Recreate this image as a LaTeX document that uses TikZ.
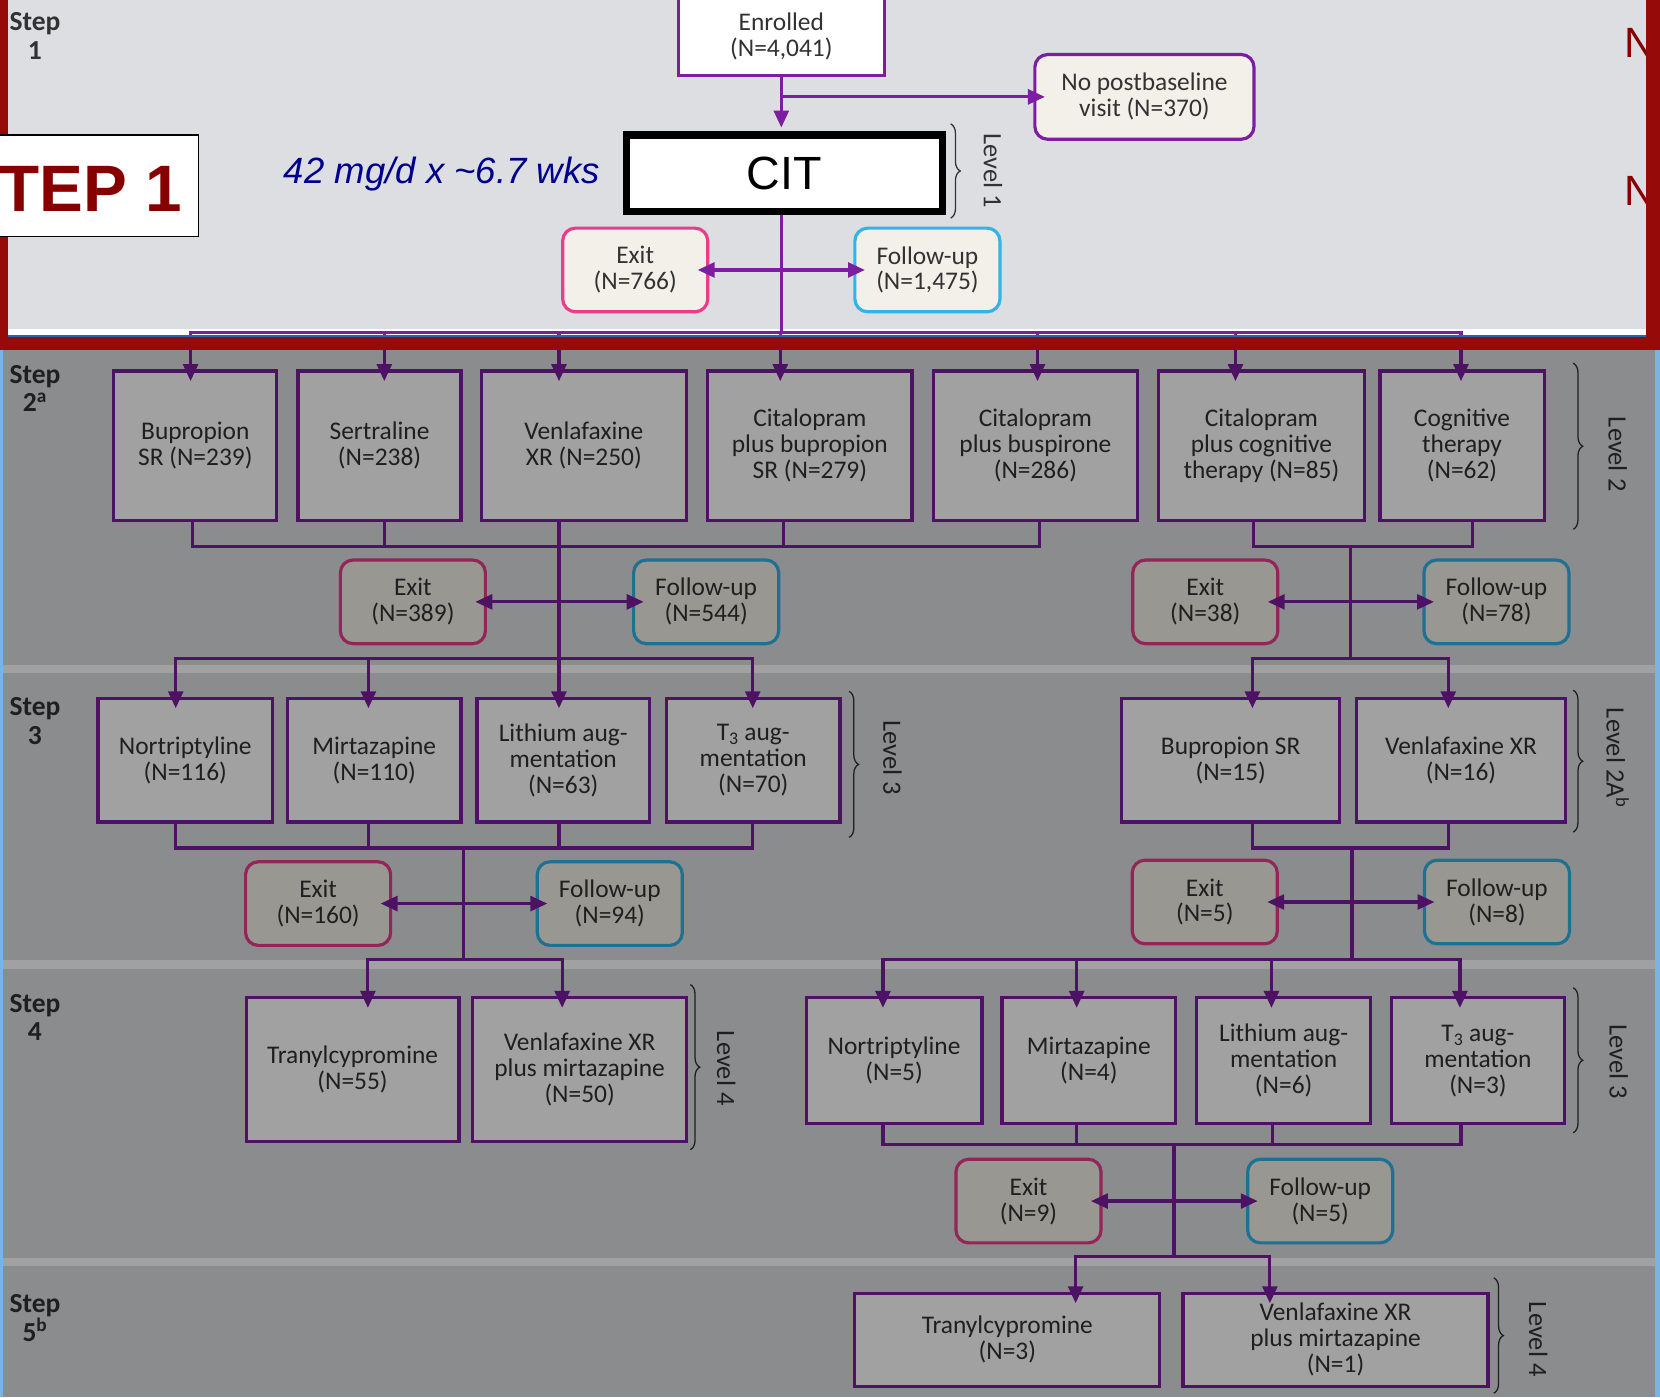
\documentclass[tikz,border=0pt]{standalone}
\usepackage{fontspec}
\setmainfont{Carlito}
\newfontfamily\arialfont{Liberation Sans}
\usetikzlibrary{arrows.meta,decorations.pathreplacing,calc}

\definecolor{topbg}{RGB}{221,222,226}
\definecolor{cream}{RGB}{242,240,232}
\definecolor{ptop}{RGB}{125,30,160}
\definecolor{pinktop}{RGB}{235,60,140}
\definecolor{cyantop}{RGB}{50,180,230}
\definecolor{framered}{RGB}{150,10,10}
\definecolor{deepred}{RGB}{135,0,0}
\definecolor{navy}{RGB}{0,0,140}
\definecolor{txt}{RGB}{50,50,50}
\definecolor{edgeblue}{RGB}{40,100,170}
\definecolor{paleblue}{RGB}{120,180,230}

\newcommand{\boxfont}{\fontsize{24}{24.5}\selectfont}
\newcommand{\stepfont}{\fontsize{26}{27}\selectfont\bfseries}

\tikzset{
  drug/.style={draw=ptop, line width=3pt, fill=white, text=txt, font=\boxfont,
    align=center, inner sep=0pt},
  roundbox/.style={drug, fill=cream, rounded corners=12pt},
  exitbox/.style={roundbox, draw=pinktop, minimum width=137, minimum height=79},
  fubox/.style={exitbox, draw=cyantop},
  citbox/.style={draw=black, line width=7pt, fill=white, minimum width=299,
    minimum height=72, font=\arialfont\fontsize{44}{44}\selectfont},
  tepbox/.style={draw=black, line width=1.5pt, fill=white, minimum width=197, minimum height=96},
  teptext/.style={inner sep=0pt, text=deepred, font=\arialfont\bfseries\fontsize{62}{62}\selectfont},
  dose/.style={inner sep=0pt, text=navy, font=\arialfont\itshape\fontsize{34.5}{34.5}\selectfont},
  nmark/.style={inner sep=0pt, text=deepred, font=\arialfont\fontsize{40}{40}\selectfont},
  pline/.style={draw=ptop, line width=3pt},
  arr/.style={pline, -{Triangle[length=16pt,width=14pt]}, shorten >=-11pt},
  lvl/.style={decorate, decoration={brace, amplitude=9pt}, draw=txt, line width=1.2pt},
  lvltext/.style={rotate=-90, font=\fontsize{25}{25}\selectfont, text=txt},
  steplabel/.style={font=\stepfont, text=txt, align=center, inner sep=0pt},
}

\begin{document}
\begin{tikzpicture}[x=1pt, y=-1pt]
  \useasboundingbox (0,0) rectangle (1568,1320);
  \clip (0,0) rectangle (1568,1320);

  % Background and step bands
  \fill[topbg] (0,0) rectangle (1568,1320);
  \fill[white] (0,311) rectangle (1568,316);
  \foreach \yb in {628,907,1188} {
    \fill[white] (0,\yb) rectangle (1568,\yb+8);
  }

  % Step labels
  \node[steplabel] (s1) at (33,34) {Step\\1};
  \node[steplabel] (s2) at (33,367) {Step\\2\textsuperscript{a}};
  \node[steplabel] (s3) at (33,681) {Step\\3};
  \node[steplabel] (s4) at (33,961) {Step\\4};
  \node[steplabel] (s5) at (33,1245) {Step\\5\textsuperscript{b}};

  % Step 1
  \node[dose, anchor=base west] (dose) at (268,173) {42 mg/d x \textasciitilde6.7 wks};
  \node[nmark, anchor=base west] (n1) at (1534,54) {N};
  \node[nmark, anchor=base west] (n2) at (1534,194) {N};

  \node[drug, minimum width=195, minimum height=75] (enr) at (738,34) {Enrolled\\(N=4,041)};
  \node[roundbox, minimum width=207, minimum height=80] (nopost) at (1081,91.5) {No postbaseline\\visit (N=370)};
  \node[citbox] (cit) at (741,163.5) {CIT};
  \node[exitbox] (exit1) at (600,255) {Exit\\(N=766)};
  \node[fubox] (fu1) at (876,255) {Follow-up\\(N=1,475)};

  \draw[arr, shorten >=3.5pt] (enr.south) -- (enr.south |- cit.north);
  \draw[arr] (enr.south |- nopost.west) -- (nopost.west);
  \coordinate (d2) at (enr.south |- 0,314);
  \draw[pline] (cit.south -| d2) -- (d2);
  \draw[arr] (d2 |- exit1.east) -- (exit1.east);
  \draw[arr] (d2 |- fu1.west) -- (fu1.west);
  \draw[lvl] (898,117) -- (898,206);
  \node[lvltext] (lv1) at (938,161) {Level 1};

  % Step 2
  \node[drug, minimum width=154, minimum height=141] (bup) at (184.5,421) {Bupropion\\SR (N=239)};
  \node[drug, minimum width=154, minimum height=141] (sert) at (358.5,421) {Sertraline\\(N=238)};
  \node[drug, minimum width=194, minimum height=141] (venla) at (551.5,421) {Venlafaxine\\XR (N=250)};
  \node[drug, minimum width=193, minimum height=141] (citbup) at (765,421) {Citalopram\\plus bupropion\\SR (N=279)};
  \node[drug, minimum width=193, minimum height=141] (citbus) at (978,421) {Citalopram\\plus buspirone\\(N=286)};
  \node[drug, minimum width=194, minimum height=141] (citcog) at (1191.5,421) {Citalopram\\plus cognitive\\therapy (N=85)};
  \node[drug, minimum width=155, minimum height=141] (cogth) at (1381,421) {Cognitive\\therapy\\(N=62)};
  \foreach \bx/\sh in {bup/-4.5,sert/4.5,venla/-23.5,citbup/-28,citbus/2,citcog/-24.5,cogth/-1} {
    \draw[arr] (d2) -| ([xshift=\sh]\bx.north);
  }
  \draw[lvl] (1486,343) -- (1486,500);
  \node[lvltext] (lv2) at (1528,429) {Level 2};

  \node[exitbox] (exit2a) at (390,568.5) {Exit\\(N=389)};
  \node[fubox] (fu2a) at (667,568.5) {Follow-up\\(N=544)};
  \node[exitbox] (exit2b) at (1138.5,568.5) {Exit\\(N=38)};
  \node[fubox] (fu2b) at (1413.5,568.5) {Follow-up\\(N=78)};

  \coordinate (j2a) at (528,516);
  \coordinate (d3a) at (528,622);
  \foreach \bx/\sh in {bup/-2.5,sert/4.5,citbup/-25,citbus/4} {
    \draw[pline] ([xshift=\sh]\bx.south) |- (j2a);
  }
  \draw[pline] (venla.south -| j2a) -- (d3a);
  \draw[arr] (j2a |- exit2a.east) -- (exit2a.east);
  \draw[arr] (j2a |- fu2a.west) -- (fu2a.west);

  \coordinate (j2b) at (1276,516);
  \coordinate (d3b) at (1276,622);
  \foreach \bx/\sh in {citcog/-7.5,cogth/10} {
    \draw[pline] ([xshift=\sh]\bx.south) |- (j2b);
  }
  \draw[pline] (j2b) -- (d3b);
  \draw[arr] (j2b |- exit2b.east) -- (exit2b.east);
  \draw[arr] (j2b |- fu2b.west) -- (fu2b.west);

  % Step 3
  \node[drug, minimum width=165, minimum height=117] (nort3) at (175,718) {Nortriptyline\\(N=116)};
  \node[drug, minimum width=164, minimum height=117] (mirt3) at (353.5,718) {Mirtazapine\\(N=110)};
  \node[drug, minimum width=163, minimum height=117] (lith3) at (532,718) {Lithium aug-\\mentation\\(N=63)};
  \node[drug, minimum width=164, minimum height=117] (t3a) at (711.5,718) {T\textsubscript{3} aug-\\mentation\\(N=70)};
  \node[drug, minimum width=206, minimum height=117] (bup3) at (1162.5,718) {Bupropion SR\\(N=15)};
  \node[drug, minimum width=197, minimum height=117] (ven3) at (1380,718) {Venlafaxine XR\\(N=16)};
  \foreach \bx/\sh in {nort3/-9,mirt3/-5.5,lith3/-4,t3a/-0.5} {
    \draw[arr] (d3a) -| ([xshift=\sh]\bx.north);
  }
  \foreach \bx/\sh in {bup3/20.5,ven3/-12} {
    \draw[arr] (d3b) -| ([xshift=\sh]\bx.north);
  }
  \draw[lvl] (802,653) -- (802,791);
  \node[lvltext] (lv3a) at (843,716) {Level 3};
  \draw[lvl] (1486,652) -- (1486,786);
  \node[lvltext] (lv2b) at (1528,716) {Level 2A\textsuperscript{b}};

  \node[exitbox] (exit3a) at (300.5,853.5) {Exit\\(N=160)};
  \node[fubox] (fu3a) at (576,853.5) {Follow-up\\(N=94)};
  \node[exitbox] (exit3b) at (1138,852) {Exit\\(N=5)};
  \node[fubox] (fu3b) at (1414,852) {Follow-up\\(N=8)};

  \coordinate (j3a) at (438,801);
  \coordinate (d4a) at (438,906);
  \foreach \bx/\sh in {nort3/-9,mirt3/-5.5,lith3/-4,t3a/-0.5} {
    \draw[pline] ([xshift=\sh]\bx.south) |- (j3a);
  }
  \draw[pline] (j3a) -- (d4a);
  \draw[arr] (j3a |- exit3a.east) -- (exit3a.east);
  \draw[arr] (j3a |- fu3a.west) -- (fu3a.west);

  \coordinate (j3b) at (1277,801);
  \coordinate (d4b) at (1277,906);
  \foreach \bx/\sh in {bup3/20.5,ven3/-12} {
    \draw[pline] ([xshift=\sh]\bx.south) |- (j3b);
  }
  \draw[pline] (j3b) -- (d4b);
  \draw[arr] (j3b |- exit3b.east) -- (exit3b.east);
  \draw[arr] (j3b |- fu3b.west) -- (fu3b.west);

  % Step 4
  \node[drug, minimum width=201, minimum height=136] (tran4) at (333,1010.5) {Tranylcypromine\\(N=55)};
  \node[drug, minimum width=202, minimum height=136] (vm4) at (547.5,1010.5) {Venlafaxine XR\\plus mirtazapine\\(N=50)};
  \node[drug, minimum width=166, minimum height=119] (nort4) at (844.5,1002) {Nortriptyline\\(N=5)};
  \node[drug, minimum width=164, minimum height=119] (mirt4) at (1028.5,1002) {Mirtazapine\\(N=4)};
  \node[drug, minimum width=164, minimum height=119] (lith4) at (1212.5,1002) {Lithium aug-\\mentation\\(N=6)};
  \node[drug, minimum width=163, minimum height=119] (t3b) at (1396,1002) {T\textsubscript{3} aug-\\mentation\\(N=3)};
  \foreach \bx/\sh in {tran4/14.5,vm4/-16.5} {
    \draw[arr] (d4a) -| ([xshift=\sh]\bx.north);
  }
  \foreach \bx/\sh in {nort4/-10.5,mirt4/-11.5,lith4/-11.5,t3b/-17} {
    \draw[arr] (d4b) -| ([xshift=\sh]\bx.north);
  }
  \draw[lvl] (652,930) -- (652,1086);
  \node[lvltext] (lv4a) at (686,1009) {Level 4};
  \draw[lvl] (1486,933) -- (1486,1070);
  \node[lvltext] (lv3b) at (1529,1003) {Level 3};

  \node[exitbox] (exit4) at (971.5,1134.5) {Exit\\(N=9)};
  \node[fubox] (fu4) at (1247,1134.5) {Follow-up\\(N=5)};

  \coordinate (j4b) at (1109,1081);
  \coordinate (d5) at (1109,1187);
  \foreach \bx/\sh in {nort4/-10.5,mirt4/-11.5,lith4/-10.5,t3b/-16} {
    \draw[pline] ([xshift=\sh]\bx.south) |- (j4b);
  }
  \draw[pline] (j4b) -- (d5);
  \draw[arr] (j4b |- exit4.east) -- (exit4.east);
  \draw[arr] (j4b |- fu4.west) -- (fu4.west);

  % Step 5
  \node[drug, minimum width=288, minimum height=88] (tran5) at (951.5,1265.5) {Tranylcypromine\\(N=3)};
  \node[drug, minimum width=288, minimum height=88] (vm5) at (1261.5,1265.5) {Venlafaxine XR\\plus mirtazapine\\(N=1)};
  \foreach \bx/\sh in {tran5/64.5,vm5/-62} {
    \draw[arr] (d5) -| ([xshift=\sh]\bx.north);
  }
  \draw[lvl] (1411,1207) -- (1411,1316);
  \node[lvltext] (lv4b) at (1453,1265) {Level 4};

  % Shade over steps 2-5
  \fill[black, opacity=0.37] (0,331) rectangle (1568,1320);
  \fill[paleblue] (0,331) rectangle (3,1320);
  \fill[paleblue] (1563,331) rectangle (1568,1320);

  % Red frame round step 1
  \fill[edgeblue] (0,316) rectangle (1568,318.5);
  \fill[framered] (0,0) rectangle (8,331);
  \fill[framered] (1555,0) rectangle (1568,331);
  \fill[framered] (0,318.5) rectangle (1568,331);

  % Step 1 banner, over the frame
  \node[tepbox] (tep) at (89,175.5) {};
  \node[teptext, anchor=base east] (teplabel) at (172,200) {TEP 1};
\end{tikzpicture}
\end{document}
